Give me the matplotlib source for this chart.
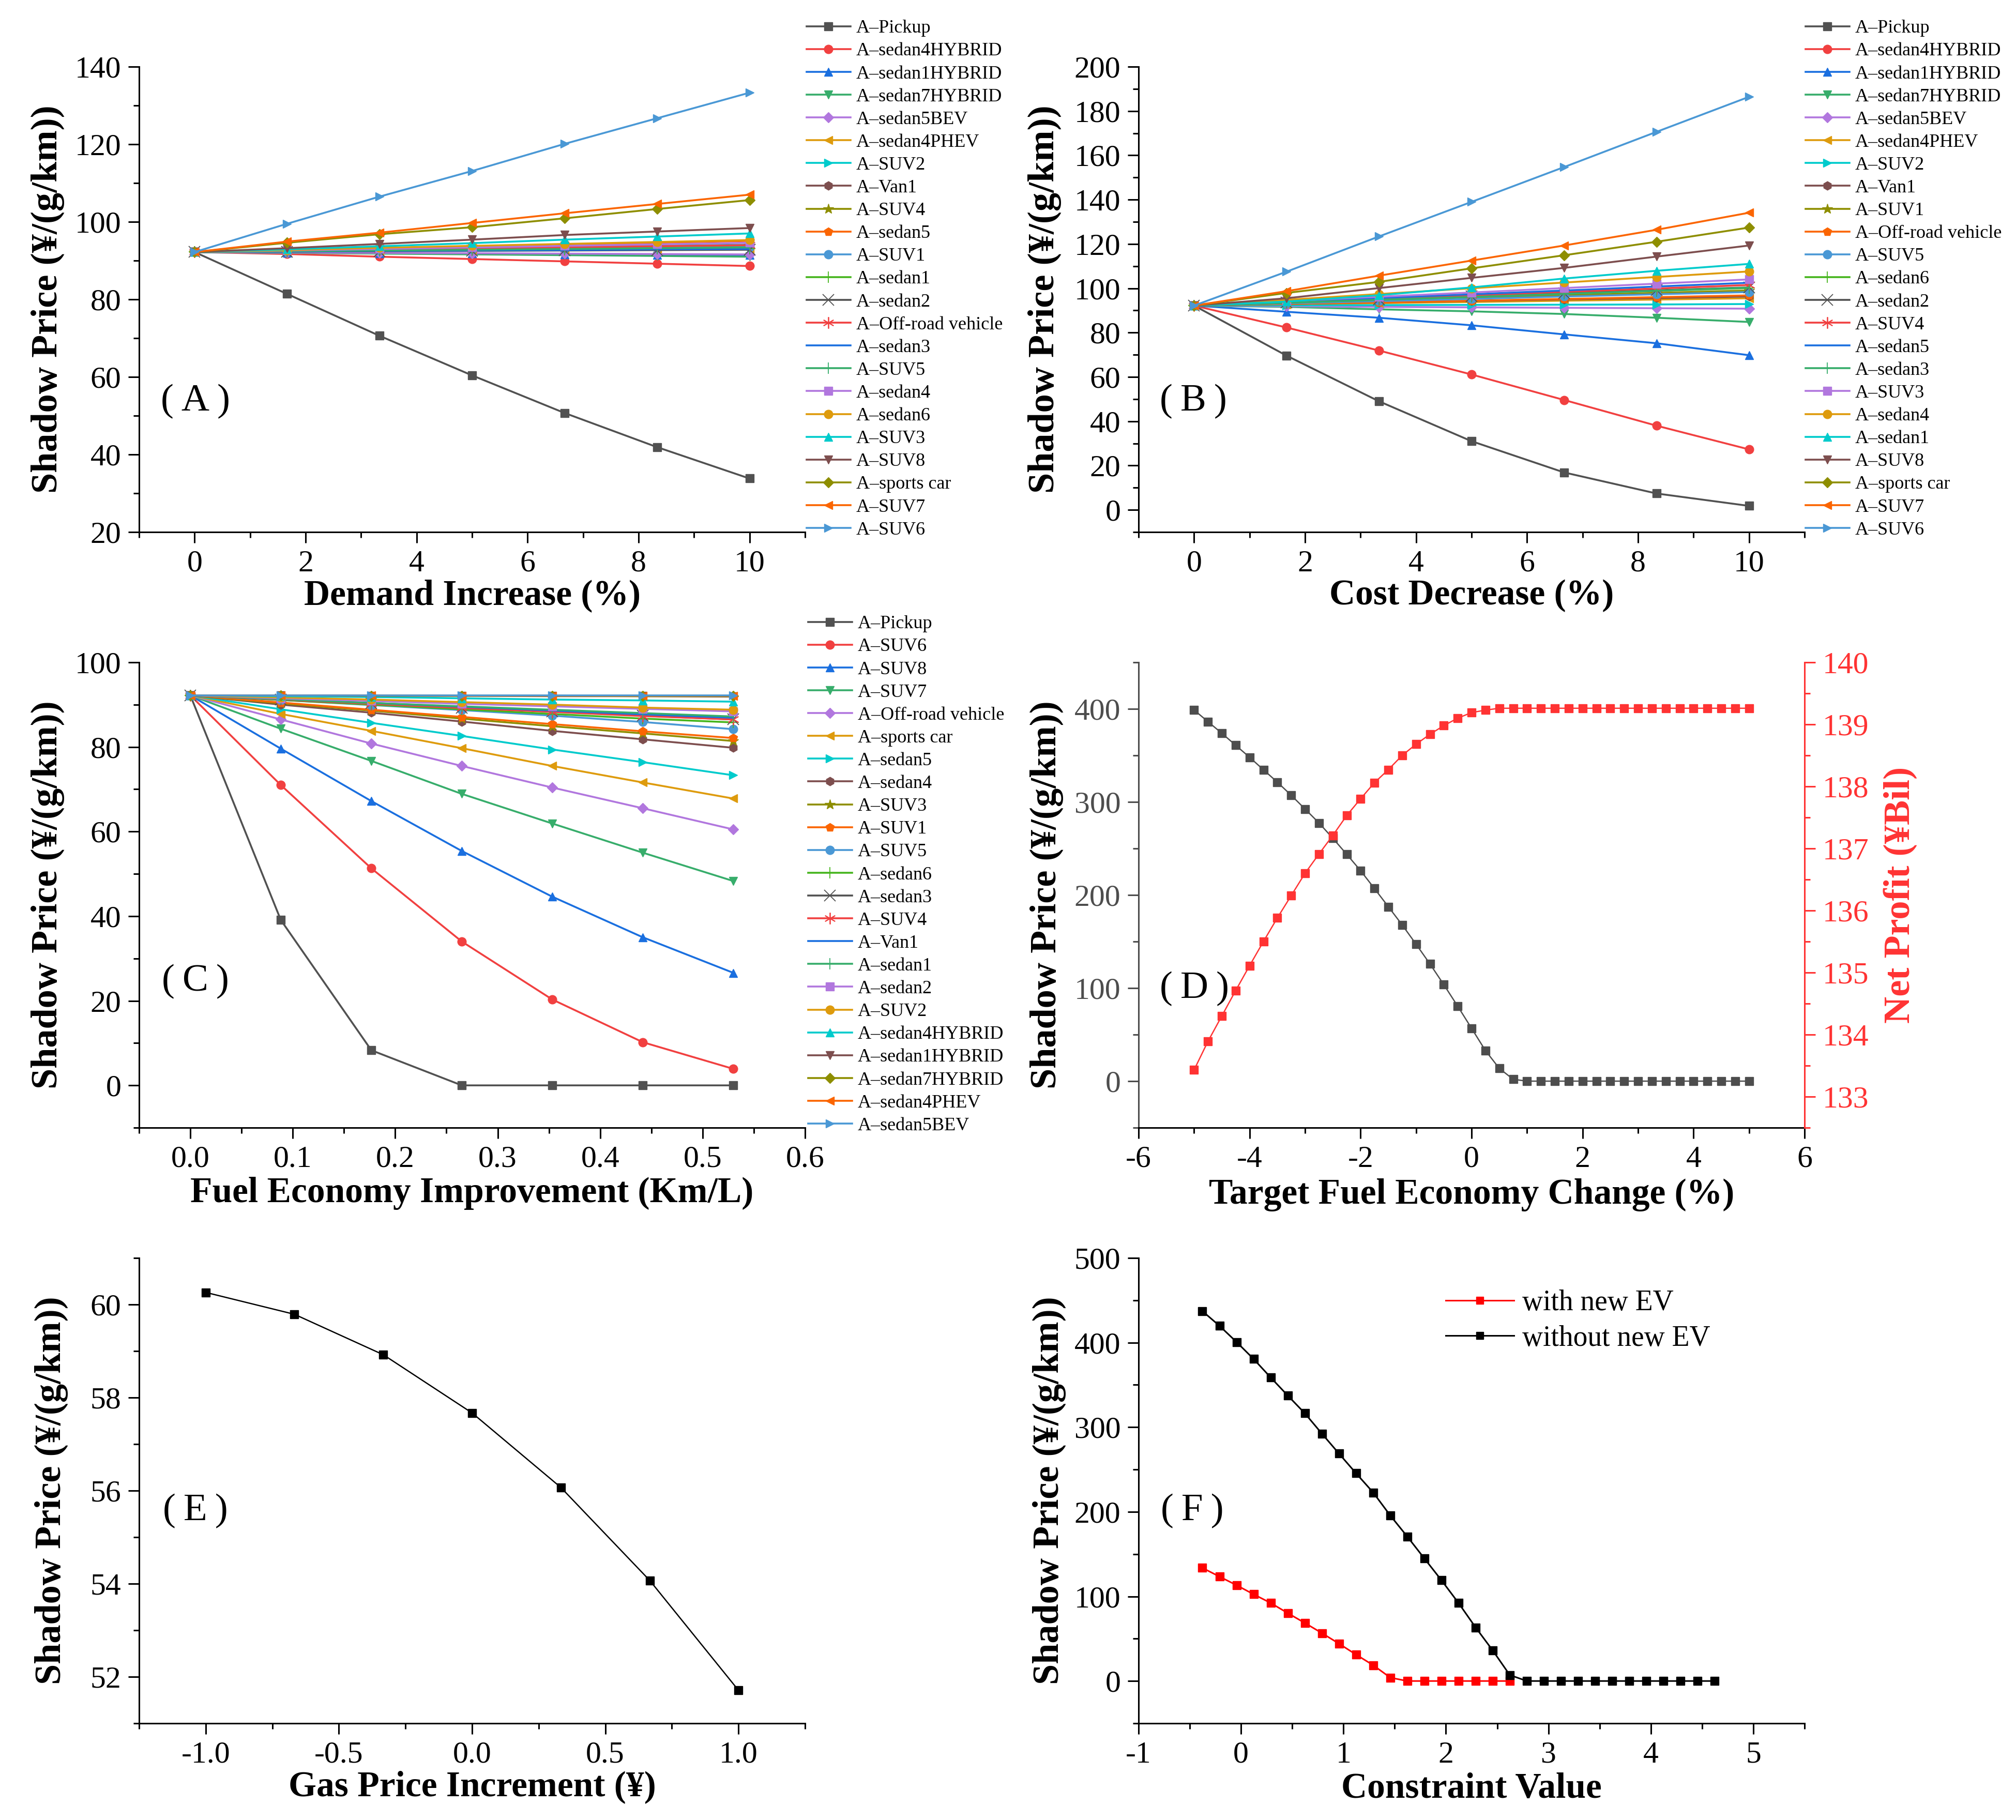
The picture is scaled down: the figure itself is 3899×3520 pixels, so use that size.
import matplotlib
matplotlib.use('Agg')
import matplotlib.pyplot as plt
from matplotlib.ticker import MultipleLocator, FormatStrFormatter

plt.rcParams['font.family'] = ['Liberation Serif', 'Noto Sans CJK SC', 'DejaVu Sans']
plt.rcParams['axes.unicode_minus'] = False

# ---------------- data ----------------
x_A = [0, 1.667, 3.333, 5, 6.667, 8.333, 10]
names_A = ['Pickup', 'sedan4HYBRID', 'sedan1HYBRID', 'sedan7HYBRID', 'sedan5BEV', 'sedan4PHEV',
           'SUV2', 'Van1', 'SUV4', 'sedan5', 'SUV1', 'sedan1', 'sedan2', 'Off-road vehicle',
           'sedan3', 'SUV5', 'sedan4', 'sedan6', 'SUV3', 'SUV8', 'sports car', 'SUV7', 'SUV6']
vals_A = [
    [92.2, 81.4, 70.6, 60.4, 50.7, 41.9, 33.8],
    [92.2, 91.7, 91.0, 90.4, 89.8, 89.2, 88.6],
    [92.2, 92.0, 91.9, 91.8, 91.6, 91.5, 91.4],
    [92.2, 92.0, 91.8, 91.6, 91.4, 91.2, 91.0],
    [92.2, 92.1, 92.0, 91.9, 91.8, 91.7, 91.6],
    [92.2, 92.4, 92.5, 92.7, 92.8, 93.0, 93.1],
    [92.2, 92.5, 92.9, 93.2, 93.5, 93.8, 94.1],
    [92.2, 92.4, 92.6, 92.9, 93.1, 93.3, 93.6],
    [92.2, 92.4, 92.7, 93.0, 93.3, 93.5, 93.8],
    [92.2, 92.7, 93.2, 93.7, 94.2, 94.6, 95.1],
    [92.2, 92.4, 92.6, 92.9, 93.1, 93.3, 93.5],
    [92.2, 92.3, 92.5, 92.7, 92.8, 93.0, 93.1],
    [92.2, 92.3, 92.4, 92.5, 92.6, 92.7, 92.8],
    [92.2, 92.5, 92.8, 93.1, 93.4, 93.7, 94.0],
    [92.2, 92.3, 92.5, 92.6, 92.7, 92.9, 93.0],
    [92.2, 92.4, 92.6, 92.8, 93.0, 93.2, 93.4],
    [92.2, 92.6, 93.0, 93.4, 93.8, 94.2, 94.6],
    [92.2, 92.7, 93.3, 93.8, 94.3, 94.8, 95.3],
    [92.2, 92.9, 93.7, 94.5, 95.4, 96.2, 97.0],
    [92.2, 93.2, 94.3, 95.4, 96.6, 97.5, 98.4],
    [92.2, 94.6, 96.8, 98.6, 100.9, 103.3, 105.6],
    [92.2, 94.9, 97.2, 99.7, 102.2, 104.6, 107.0],
    [92.2, 99.5, 106.5, 113.1, 120.1, 126.7, 133.3],
]

x_B = [0, 1.667, 3.333, 5, 6.667, 8.333, 10]
names_B = ['Pickup', 'sedan4HYBRID', 'sedan1HYBRID', 'sedan7HYBRID', 'sedan5BEV', 'sedan4PHEV',
           'SUV2', 'Van1', 'SUV1', 'Off-road vehicle', 'SUV5', 'sedan6', 'sedan2', 'SUV4',
           'sedan5', 'sedan3', 'SUV3', 'sedan4', 'sedan1', 'SUV8', 'sports car', 'SUV7', 'SUV6']
vals_B = [
    [92.2, 69.6, 49.0, 31.0, 16.9, 7.4, 1.8],
    [92.2, 82.3, 71.9, 61.1, 49.6, 38.0, 27.3],
    [92.2, 89.4, 86.7, 83.3, 79.2, 75.2, 69.8],
    [92.2, 91.6, 90.5, 89.6, 88.4, 86.7, 84.8],
    [92.2, 91.9, 91.6, 91.4, 91.2, 91.0, 90.8],
    [92.2, 92.7, 93.3, 93.8, 94.4, 94.9, 95.5],
    [92.2, 92.3, 92.4, 92.5, 92.6, 92.7, 92.9],
    [92.2, 92.9, 93.6, 94.3, 95.0, 95.6, 96.3],
    [92.2, 93.3, 94.4, 95.6, 96.8, 97.9, 99.0],
    [92.2, 92.9, 93.6, 94.4, 95.2, 96.0, 96.8],
    [92.2, 93.2, 94.2, 95.2, 96.3, 97.3, 98.3],
    [92.2, 93.5, 94.8, 96.1, 97.5, 98.8, 100.1],
    [92.2, 93.6, 95.0, 96.4, 97.8, 99.1, 100.4],
    [92.2, 93.8, 95.3, 96.8, 98.4, 99.9, 101.5],
    [92.2, 93.9, 95.6, 97.3, 99.0, 100.8, 102.5],
    [92.2, 93.5, 94.8, 96.1, 97.5, 98.9, 100.3],
    [92.2, 94.2, 96.2, 98.1, 100.1, 102.1, 104.0],
    [92.2, 94.8, 97.4, 100.0, 102.6, 105.1, 107.6],
    [92.2, 94.0, 96.9, 100.4, 104.4, 107.9, 111.0],
    [92.2, 95.5, 100.1, 104.7, 109.2, 114.3, 119.3],
    [92.2, 97.9, 102.9, 109.0, 114.9, 121.0, 127.4],
    [92.2, 98.7, 105.7, 112.5, 119.3, 126.4, 134.1],
    [92.2, 107.5, 123.4, 139.0, 154.7, 170.6, 186.4],
]

x_C = [0, 0.0883, 0.1767, 0.265, 0.3533, 0.4417, 0.53]
names_C = ['Pickup', 'SUV6', 'SUV8', 'SUV7', 'Off-road vehicle', 'sports car', 'sedan5', 'sedan4',
           'SUV3', 'SUV1', 'SUV5', 'sedan6', 'sedan3', 'SUV4', 'Van1', 'sedan1', 'sedan2', 'SUV2',
           'sedan4HYBRID', 'sedan1HYBRID', 'sedan7HYBRID', 'sedan4PHEV', 'sedan5BEV']
vals_C = [
    [92.2, 39.1, 8.3, 0, 0, 0, 0],
    [92.2, 71.0, 51.3, 34.0, 20.3, 10.2, 3.9],
    [92.2, 79.6, 67.2, 55.4, 44.6, 35.0, 26.6],
    [92.2, 84.3, 76.7, 68.9, 61.9, 55.0, 48.3],
    [92.2, 86.5, 80.8, 75.5, 70.4, 65.5, 60.5],
    [92.2, 87.8, 83.8, 79.7, 75.5, 71.6, 67.8],
    [92.2, 88.9, 85.7, 82.6, 79.4, 76.4, 73.3],
    [92.2, 90.0, 88.1, 86.0, 83.8, 81.8, 79.8],
    [92.2, 90.3, 88.6, 86.7, 84.9, 83.2, 81.4],
    [92.2, 90.5, 88.8, 87.1, 85.4, 83.7, 82.1],
    [92.2, 91.1, 89.9, 88.7, 87.4, 85.9, 84.2],
    [92.2, 91.1, 90.0, 88.9, 87.8, 86.7, 85.8],
    [92.2, 91.2, 90.3, 89.3, 88.4, 87.4, 86.5],
    [92.2, 91.2, 90.2, 89.2, 88.3, 87.3, 86.5],
    [92.2, 91.3, 90.4, 89.5, 88.6, 87.7, 86.9],
    [92.2, 91.3, 90.4, 89.6, 88.8, 88.0, 87.2],
    [92.2, 91.5, 90.9, 90.2, 89.6, 89.0, 88.4],
    [92.2, 91.7, 91.2, 90.6, 90.0, 89.3, 88.8],
    [92.2, 92.0, 91.8, 91.5, 91.2, 91.0, 90.7],
    [92.2, 92.2, 92.1, 92.1, 92.0, 92.0, 91.9],
    [92.2, 92.2, 92.1, 92.1, 92.1, 92.0, 92.0],
    [92.2, 92.2, 92.2, 92.1, 92.1, 92.1, 92.1],
    [92.2, 92.2, 92.2, 92.2, 92.2, 92.2, 92.2],
]

x_D = [-5.0, -4.75, -4.5, -4.25, -4.0, -3.75, -3.5, -3.25, -3.0, -2.75, -2.5, -2.25, -2.0, -1.75,
       -1.5, -1.25, -1.0, -0.75, -0.5, -0.25, 0.0, 0.25, 0.5, 0.75, 1.0, 1.25, 1.5, 1.75, 2.0,
       2.25, 2.5, 2.75, 3.0, 3.25, 3.5, 3.75, 4.0, 4.25, 4.5, 4.75, 5.0]
shadow_D = [398.8, 386.3, 373.8, 360.9, 348.0, 334.6, 321.3, 307.2, 292.4, 277.5, 261.0, 243.8,
            226.2, 207.0, 187.5, 167.9, 147.2, 126.0, 103.7, 80.6, 56.8, 32.9, 13.7, 2.0, 0, 0,
            0, 0, 0, 0, 0, 0, 0, 0, 0, 0, 0, 0, 0, 0, 0]
profit_D = [133.43, 133.89, 134.30, 134.71, 135.11, 135.50, 135.88, 136.24, 136.60, 136.91,
            137.21, 137.53, 137.80, 138.06, 138.27, 138.50, 138.68, 138.84, 138.98, 139.10,
            139.19, 139.23, 139.26, 139.26, 139.26, 139.26, 139.26, 139.26, 139.26, 139.26,
            139.26, 139.26, 139.26, 139.26, 139.26, 139.26, 139.26, 139.26, 139.26, 139.26, 139.26]

x_E = [-1.0, -0.667, -0.333, 0.0, 0.333, 0.667, 1.0]
shadow_E = [60.26, 59.79, 58.92, 57.67, 56.07, 54.07, 51.71]

x_F = [-0.377, -0.21, -0.043, 0.123, 0.29, 0.457, 0.623, 0.79, 0.957, 1.123, 1.29, 1.457,
       1.623, 1.79, 1.957, 2.123, 2.29, 2.457, 2.623, 2.79, 2.957, 3.123, 3.29, 3.457, 3.623,
       3.79, 3.957, 4.123, 4.29, 4.457, 4.623]
without_F = [437.2, 419.8, 400.6, 380.6, 358.7, 337.3, 316.4, 292.3, 268.7, 245.5, 222.8, 195.6,
             170.7, 144.8, 119.0, 92.2, 63.3, 36.1, 7.1, 0, 0, 0, 0, 0, 0, 0, 0, 0, 0, 0, 0]
with_F = [133.7, 123.4, 113.2, 102.5, 92.2, 80.2, 68.6, 56.6, 44.1, 31.2, 18.7, 4.0,
          0, 0, 0, 0, 0, 0, 0]

# ---------------- style ----------------
COLORS = ['#515151', '#F14040', '#1A6FDF', '#37AD6B', '#B177DE', '#DE9B0D', '#00CBCC',
          '#7D4E4E', '#8E8E00', '#FB6501', '#4A98D5', '#46B51E', '#515151', '#F14040',
          '#1A6FDF', '#37AD6B', '#B177DE', '#DE9B0D', '#00CBCC', '#7D4E4E', '#8E8E00',
          '#FB6501', '#4A98D5']
MARKERS = ['s', 'o', '^', 'v', 'D', '<', '>', 'h', '*', 'p', 'o', '+', 'x', (6, 2, 0), 'None',
           '|', 's', 'o', '^', 'v', 'D', '<', '>']

W, H = 3899, 3520
fig = plt.figure(figsize=(W / 100, H / 100), dpi=100)

AX_W, AX_H = 1288 / W, 900 / H
LEFT1, LEFT2 = 269 / W, 2202 / W
ROW1, ROW2, ROW3 = 1 - 1029 / H, 1 - 2181 / H, 1 - 3333 / H

TICK_FS = 43
XLABEL_FS = 50
YLABEL_FS = 52


def style(ax, xlim, ylim, xmaj, xmin, ymaj, ymin, xfmt=None):
    ax.set_xlim(*xlim)
    ax.set_ylim(*ylim)
    ax.spines['top'].set_visible(False)
    ax.spines['right'].set_visible(False)
    for s in ('left', 'bottom'):
        ax.spines[s].set_linewidth(2.2)
    ax.xaxis.set_major_locator(MultipleLocator(xmaj))
    ax.xaxis.set_minor_locator(MultipleLocator(xmin))
    ax.yaxis.set_major_locator(MultipleLocator(ymaj))
    ax.yaxis.set_minor_locator(MultipleLocator(ymin))
    if xfmt:
        ax.xaxis.set_major_formatter(FormatStrFormatter(xfmt))
    ax.tick_params(which='major', direction='out', length=15, width=2.2,
                   labelsize=TICK_FS, pad=10)
    ax.tick_params(which='minor', direction='out', length=8, width=2.2)


def labels(ax, xl, yl, xy=-0.14, yx=-0.137):
    ax.set_xlabel(xl, fontsize=XLABEL_FS, fontweight='bold')
    ax.set_ylabel(yl, fontsize=YLABEL_FS, fontweight='bold')
    ax.xaxis.set_label_coords(0.5, xy)
    ax.yaxis.set_label_coords(yx, 0.5)
    ax.xaxis.label.set_va('center')
    ax.yaxis.label.set_va('center')


def draw_multi(ax, x, names, vals):
    for i, (n, v) in enumerate(zip(names, vals)):
        m = MARKERS[i]
        thin = m in ('+', 'x', '|') or isinstance(m, tuple)
        ms = 12
        if m == 'D':
            ms = 10
        elif m == '*':
            ms = 15
        elif thin:
            ms = 16
        ax.plot(x, v, color=COLORS[i], lw=2.6, marker=m, ms=ms,
                mew=1.3 if thin else 1.0, mec=COLORS[i], mfc=COLORS[i],
                label='A–' + n)


def legend_multi(ax, x0, y0):
    ax.legend(loc='upper left', bbox_to_anchor=(x0 / W, 1 - y0 / H),
              bbox_transform=fig.transFigure, frameon=False, fontsize=26,
              labelspacing=0.30, handlelength=2.35, handletextpad=0.3,
              borderpad=0, borderaxespad=0, numpoints=1)


YL = 'Shadow Price (¥/(g/km))'

# Panel A
axA = fig.add_axes([LEFT1, ROW1, AX_W, AX_H])
draw_multi(axA, x_A, names_A, vals_A)
style(axA, (-1, 11), (20, 140), 2, 1, 20, 10)
labels(axA, 'Demand Increase (%)', YL, xy=-0.137, yx=-0.137)
legend_multi(axA, 1560, 38)

# Panel B
axB = fig.add_axes([LEFT2, ROW1, AX_W, AX_H])
draw_multi(axB, x_B, names_B, vals_B)
style(axB, (-1, 11), (-10, 200), 2, 1, 20, 10)
labels(axB, 'Cost Decrease (%)', YL, xy=-0.137, yx=-0.141)
legend_multi(axB, 3492, 38)

# Panel C
axC = fig.add_axes([LEFT1, ROW2, AX_W, AX_H])
draw_multi(axC, x_C, names_C, vals_C)
style(axC, (-0.05, 0.6), (-10, 100), 0.1, 0.05, 20, 10, xfmt='%.1f')
labels(axC, 'Fuel Economy Improvement (Km/L)', YL, xy=-0.141, yx=-0.137)
legend_multi(axC, 1563, 1190)

# Panel D
DARK = '#4D4D4D'
RED_D = '#FF3333'
axD = fig.add_axes([LEFT2, ROW2, AX_W, AX_H])
axD.plot(x_D, shadow_D, color=DARK, lw=1.8, marker='s', ms=11)
style(axD, (-6, 6), (-50, 450), 2, 1, 100, 50)
axD.spines['left'].set_color(DARK)
axD.tick_params(axis='y', which='both', colors=DARK)
labels(axD, 'Target Fuel Economy Change (%)', YL, xy=-0.144, yx=-0.138)
axD2 = axD.twinx()
axD2.plot(x_D, profit_D, color=RED_D, lw=1.8, marker='s', ms=11)
axD2.set_ylim(132.5, 140)
axD2.set_xlim(-6, 6)
axD2.spines['top'].set_visible(False)
axD2.spines['left'].set_visible(False)
axD2.spines['bottom'].set_visible(False)
axD2.spines['right'].set_color(RED_D)
axD2.spines['right'].set_linewidth(2.2)
axD2.yaxis.set_major_locator(MultipleLocator(1))
axD2.yaxis.set_minor_locator(MultipleLocator(0.5))
axD2.tick_params(which='major', direction='out', length=15, width=2.2,
                 labelsize=TICK_FS, pad=10, colors=RED_D)
axD2.tick_params(which='minor', direction='out', length=8, width=2.2, colors=RED_D)
axD2.set_ylabel('Net Profit (¥Bil)', fontsize=YLABEL_FS, fontweight='bold', color=RED_D)
axD2.yaxis.set_label_coords(1.144, 0.5)
axD2.yaxis.label.set_va('center')

# Panel E
axE = fig.add_axes([LEFT1, ROW3, AX_W, AX_H])
axE.plot(x_E, shadow_E, color='black', lw=1.8, marker='s', ms=11)
style(axE, (-1.25, 1.25), (51, 61), 0.5, 0.25, 2, 1, xfmt='%.1f')
labels(axE, 'Gas Price Increment (¥)', YL, xy=-0.137, yx=-0.132)

# Panel F
axF = fig.add_axes([LEFT2, ROW3, AX_W, AX_H])
axF.plot(x_F[:len(with_F)], with_F, color='#FF0000', lw=2.2, marker='s', ms=11,
         label='with new EV')
axF.plot(x_F, without_F, color='black', lw=2.2, marker='s', ms=11, label='without new EV')
style(axF, (-1, 5.5), (-50, 500), 1, 0.5, 100, 50)
labels(axF, 'Constraint Value', YL, xy=-0.141, yx=-0.134)
axF.legend(loc='upper left', bbox_to_anchor=(2796 / W, 1 - 2494 / H),
           bbox_transform=fig.transFigure, frameon=False, fontsize=40,
           labelspacing=0.30, handlelength=2.37, handletextpad=0.3,
           borderpad=0, borderaxespad=0, markerscale=0.9)

# Panel tags
for tag, (px, py) in {'A': (378, 776), 'B': (2308, 776), 'C': (378, 1898),
                      'D': (2310, 1912), 'E': (378, 2922), 'F': (2306, 2922)}.items():
    fig.text(px / W, 1 - py / H, '(\u2009' + tag + '\u2009)', ha='center', va='center',
             fontsize=54)

fig.savefig('out.png', dpi=100)
